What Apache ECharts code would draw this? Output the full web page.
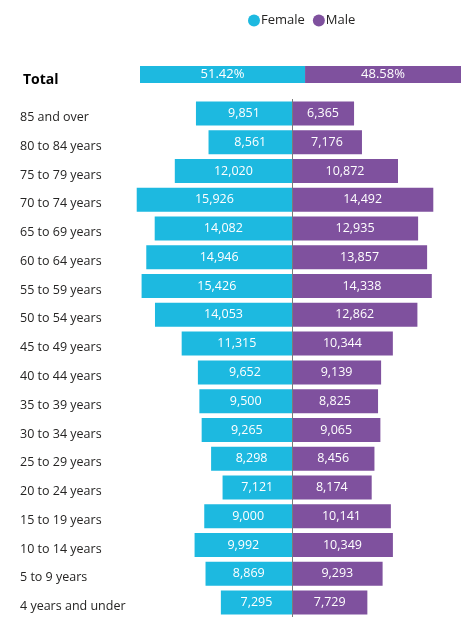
<!DOCTYPE html>
<html>
<head>
<meta charset="utf-8">
<script src="https://cdn.jsdelivr.net/npm/echarts@6/dist/echarts.min.js"></script>
<style>
	html, body { margin: 0; padding: 0; background: #fff; }
	#main { width: 467px; height: 636px; }
</style>
</head>
<body>
<div id="main"></div>
<script type="text/javascript">
	var ageGroups = ['85 and over', '80 to 84 years', '75 to 79 years', '70 to 74 years', '65 to 69 years',
		'60 to 64 years', '55 to 59 years', '50 to 54 years', '45 to 49 years', '40 to 44 years',
		'35 to 39 years', '30 to 34 years', '25 to 29 years', '20 to 24 years', '15 to 19 years',
		'10 to 14 years', '5 to 9 years', '4 years and under'];
	var female = [9851, 8561, 12020, 15926, 14082, 14946, 15426, 14053, 11315, 9652,
		9500, 9265, 8298, 7121, 9000, 9992, 8869, 7295];
	var male = [6365, 7176, 10872, 14492, 12935, 13857, 14338, 12862, 10344, 9139,
		8825, 9065, 8456, 8174, 10141, 10349, 9293, 7729];
	var totalShare = { female: 51.42, male: 48.58 };

	var font = "'Segoe UI', 'Open Sans', sans-serif";
	var cyan = '#1DB9E0';
	var purple = '#7F519E';

	function fmt(v) {
		return Math.abs(v).toLocaleString('en-US');
	}

	var myChart = echarts.init(document.getElementById('main'));
	var option = {
		animation: false,
		textStyle: { fontFamily: font },
		legend: {
			top: 9,
			left: 243,
			icon: 'circle',
			itemWidth: 12,
			itemHeight: 12,
			itemGap: 8,
			textStyle: { fontSize: 13, color: '#252423', fontFamily: font, padding: [0, 0, 0, -4] },
			data: ['Female', 'Male']
		},
		grid: [
			{ left: 140, width: 321, top: 66, height: 17 },
			{ left: 136, width: 312, top: 99, height: 518 }
		],
		xAxis: [
			{ gridIndex: 0, type: 'value', min: 0, max: 100, show: false },
			{ gridIndex: 1, type: 'value', min: -16000, max: 16000, show: false }
		],
		yAxis: [
			{
				gridIndex: 0, type: 'category', data: ['Total'],
				axisLine: { show: false }, axisTick: { show: false },
				axisLabel: { align: 'left', margin: 117,
					formatter: function (v) { return '{t|' + v + '}'; },
					rich: { t: { fontSize: 14, fontWeight: 'bold', color: '#000', fontFamily: font, padding: [12, 0, 0, 0] } } }
			},
			{
				gridIndex: 1, type: 'category', data: ageGroups, inverse: true,
				axisLine: { show: false, onZero: false }, axisTick: { show: false },
				axisLabel: { align: 'left', margin: 116,
					formatter: function (v) { return '{a|' + v + '}'; },
					rich: { a: { fontSize: 12.5, color: '#252423', fontFamily: font, padding: [8, 0, 0, 0] } } }
			}
		],
		series: [
			{
				name: 'Female', type: 'bar', xAxisIndex: 0, yAxisIndex: 0, stack: 'total',
				barWidth: 17, itemStyle: { color: cyan },
				label: { show: true, position: 'inside', color: '#fff', fontSize: 13, fontFamily: font,
					formatter: function (p) { return p.value.toFixed(2) + '%'; } },
				data: [totalShare.female]
			},
			{
				name: 'Male', type: 'bar', xAxisIndex: 0, yAxisIndex: 0, stack: 'total',
				barWidth: 17, itemStyle: { color: purple },
				label: { show: true, position: 'inside', color: '#fff', fontSize: 13, fontFamily: font,
					formatter: function (p) { return p.value.toFixed(2) + '%'; } },
				data: [totalShare.male]
			},
			{
				name: 'Female', type: 'bar', xAxisIndex: 1, yAxisIndex: 1, stack: 'pyr',
				barWidth: 24, itemStyle: { color: cyan },
				label: { show: true, position: 'inside', color: '#fff', fontSize: 12.5, fontFamily: font,
					formatter: function (p) { return fmt(p.value); } },
				markLine: {
					silent: true, symbol: 'none', label: { show: false },
					lineStyle: { color: '#7a7a7a', width: 1, type: 'solid' },
					data: [{ xAxis: 0 }]
				},
				z: 3,
				data: female.map(function (v) { return -v; })
			},
			{
				name: 'Male', type: 'bar', xAxisIndex: 1, yAxisIndex: 1, stack: 'pyr',
				barWidth: 24, itemStyle: { color: purple },
				label: { show: true, position: 'inside', color: '#fff', fontSize: 12.5, fontFamily: font,
					formatter: function (p) { return fmt(p.value); } },
				data: male
			}
		]
	};
	myChart.setOption(option);
</script>
</body>
</html>
